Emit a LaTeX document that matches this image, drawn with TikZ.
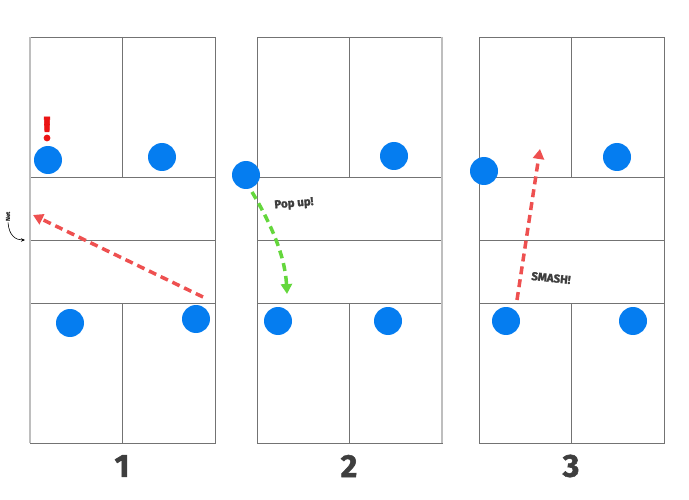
\documentclass[tikz,border=0pt]{standalone}
\usepackage{fontspec}
\setmainfont{Fira Sans}
\newfontfamily\heavyfont{Fira Sans}[BoldFeatures={FakeBold=1.6}]
\usetikzlibrary{arrows.meta}
\definecolor{courtline}{RGB}{115,115,115}
\definecolor{courtedge}{RGB}{190,190,190}
\definecolor{playerblue}{RGB}{5,125,240}
\definecolor{hitred}{RGB}{238,80,80}
\definecolor{alertred}{RGB}{235,20,20}
\definecolor{popgreen}{RGB}{100,215,60}
\definecolor{labelgray}{RGB}{62,62,62}
\begin{document}
\begin{tikzpicture}[x=1pt,y=-1pt,
  player/.style={circle,fill=playerblue,minimum size=28pt,inner sep=0pt},
  shot/.style={line width=3.5pt,dash pattern=on 8pt off 5pt,
    -{Triangle[length=10pt,width=11pt]}},
  courtnum/.style={font=\heavyfont\fontsize{32}{32}\selectfont\bfseries,text=labelgray},
  calltext/.style={font=\heavyfont\fontsize{11.5}{12}\selectfont\bfseries,text=labelgray,inner sep=1pt}]
\useasboundingbox (0,0) rectangle (689,500);
% courts
\foreach \xa in {30,257,479} {
  \draw[courtline,line width=0.9pt] (\xa,37) rectangle ++(185,406);
  \draw[courtline,line width=0.9pt] (\xa,177) -- ++(185,0)
    (\xa,240) -- ++(185,0) (\xa,303) -- ++(185,0);
  \draw[courtline,line width=0.9pt] (\xa+92,37) -- ++(0,140)
    (\xa+92,303) -- ++(0,140);
}
\draw[courtedge,line width=2pt] (30,37) -- (30,443);
\draw[courtedge,line width=2pt] (442,37) -- (442,443);
% players court 1
\node[player] (p1a) at (48,160) {};
\node[player] (p1b) at (162,157) {};
\node[player] (p1c) at (70,323) {};
\node[player] (p1d) at (196,319) {};
% players court 2
\node[player] (p2a) at (246,175) {};
\node[player] (p2b) at (394,156) {};
\node[player] (p2c) at (278,321) {};
\node[player] (p2d) at (388,321) {};
% players court 3
\node[player] (p3a) at (484,171) {};
\node[player] (p3b) at (617,157) {};
\node[player] (p3c) at (506,321) {};
\node[player] (p3d) at (633,321) {};
% alert
\node[text=alertred,font=\heavyfont\fontsize{34}{34}\selectfont\bfseries,inner sep=0pt] (alert) at (47,129) {!};
% net label
\node[rotate=90,font=\fontsize{6}{6}\selectfont\bfseries,inner sep=0.5pt] (netlabel) at (8,217) {Net};
\coordinate (netend) at (25,240);
\draw[line width=0.6pt,-{Stealth[length=4pt,width=3.5pt]}] (netlabel.west) .. controls (9,236) and (16,240) .. (netend);
% shot 1
\coordinate (s1) at (203,297);
\coordinate (e1) at (33,215);
\draw[shot,hitred] (s1) -- (e1);
% shot 2 pop up
\coordinate (s2) at (252,192);
\coordinate (e2) at (287,294);
\draw[shot,popgreen] (s2) .. controls (270,222) and (285,255) .. (e2);
\node[calltext,rotate=5] (popup) at (294,204) {Pop up!};
% shot 3 smash
\coordinate (s3) at (517,300);
\coordinate (e3) at (540,149);
\draw[shot,hitred] (s3) -- (e3);
\node[calltext,rotate=-6] (smash) at (551,278) {SMASH!};
% court numbers
\node[courtnum] (n1) at (122,466) {1};
\node[courtnum] (n2) at (349,466) {2};
\node[courtnum] (n3) at (571,466) {3};
\end{tikzpicture}
\end{document}
